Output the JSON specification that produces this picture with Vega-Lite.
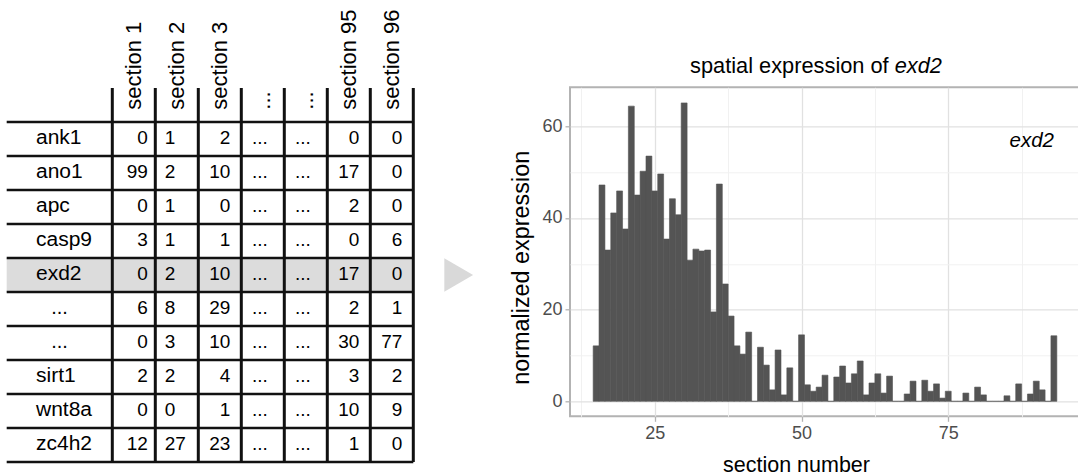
{
  "$schema": "https://vega.github.io/schema/vega-lite/v6.json",
  "padding": {"left": 0, "top": 9.3, "right": 0, "bottom": 0},
  "spacing": 70,
  "bounds": "flush",
  "config": {"font": "Liberation Sans", "text": {"color": "#000000"}},
  "datasets": {
    "genes": [
      {"row": 1, "gene": "ank1"}, {"row": 2, "gene": "ano1"}, {"row": 3, "gene": "apc"},
      {"row": 4, "gene": "casp9"}, {"row": 5, "gene": "exd2"}, {"row": 6, "gene": "..."},
      {"row": 7, "gene": "..."}, {"row": 8, "gene": "sirt1"}, {"row": 9, "gene": "wnt8a"},
      {"row": 10, "gene": "zc4h2"}
    ],
    "sections": [
      {"col": 1, "label": "section 1"}, {"col": 2, "label": "section 2"}, {"col": 3, "label": "section 3"},
      {"col": 4, "label": "..."}, {"col": 5, "label": "..."}, {"col": 6, "label": "section 95"},
      {"col": 7, "label": "section 96"}
    ],
    "cells": [
      {"row": 1, "col": 1, "v": "0"}, {"row": 1, "col": 2, "v": "1"}, {"row": 1, "col": 3, "v": "2"}, {"row": 1, "col": 4, "v": "..."}, {"row": 1, "col": 5, "v": "..."}, {"row": 1, "col": 6, "v": "0"}, {"row": 1, "col": 7, "v": "0"},
      {"row": 2, "col": 1, "v": "99"}, {"row": 2, "col": 2, "v": "2"}, {"row": 2, "col": 3, "v": "10"}, {"row": 2, "col": 4, "v": "..."}, {"row": 2, "col": 5, "v": "..."}, {"row": 2, "col": 6, "v": "17"}, {"row": 2, "col": 7, "v": "0"},
      {"row": 3, "col": 1, "v": "0"}, {"row": 3, "col": 2, "v": "1"}, {"row": 3, "col": 3, "v": "0"}, {"row": 3, "col": 4, "v": "..."}, {"row": 3, "col": 5, "v": "..."}, {"row": 3, "col": 6, "v": "2"}, {"row": 3, "col": 7, "v": "0"},
      {"row": 4, "col": 1, "v": "3"}, {"row": 4, "col": 2, "v": "1"}, {"row": 4, "col": 3, "v": "1"}, {"row": 4, "col": 4, "v": "..."}, {"row": 4, "col": 5, "v": "..."}, {"row": 4, "col": 6, "v": "0"}, {"row": 4, "col": 7, "v": "6"},
      {"row": 5, "col": 1, "v": "0"}, {"row": 5, "col": 2, "v": "2"}, {"row": 5, "col": 3, "v": "10"}, {"row": 5, "col": 4, "v": "..."}, {"row": 5, "col": 5, "v": "..."}, {"row": 5, "col": 6, "v": "17"}, {"row": 5, "col": 7, "v": "0"},
      {"row": 6, "col": 1, "v": "6"}, {"row": 6, "col": 2, "v": "8"}, {"row": 6, "col": 3, "v": "29"}, {"row": 6, "col": 4, "v": "..."}, {"row": 6, "col": 5, "v": "..."}, {"row": 6, "col": 6, "v": "2"}, {"row": 6, "col": 7, "v": "1"},
      {"row": 7, "col": 1, "v": "0"}, {"row": 7, "col": 2, "v": "3"}, {"row": 7, "col": 3, "v": "10"}, {"row": 7, "col": 4, "v": "..."}, {"row": 7, "col": 5, "v": "..."}, {"row": 7, "col": 6, "v": "30"}, {"row": 7, "col": 7, "v": "77"},
      {"row": 8, "col": 1, "v": "2"}, {"row": 8, "col": 2, "v": "2"}, {"row": 8, "col": 3, "v": "4"}, {"row": 8, "col": 4, "v": "..."}, {"row": 8, "col": 5, "v": "..."}, {"row": 8, "col": 6, "v": "3"}, {"row": 8, "col": 7, "v": "2"},
      {"row": 9, "col": 1, "v": "0"}, {"row": 9, "col": 2, "v": "0"}, {"row": 9, "col": 3, "v": "1"}, {"row": 9, "col": 4, "v": "..."}, {"row": 9, "col": 5, "v": "..."}, {"row": 9, "col": 6, "v": "10"}, {"row": 9, "col": 7, "v": "9"},
      {"row": 10, "col": 1, "v": "12"}, {"row": 10, "col": 2, "v": "27"}, {"row": 10, "col": 3, "v": "23"}, {"row": 10, "col": 4, "v": "..."}, {"row": 10, "col": 5, "v": "..."}, {"row": 10, "col": 6, "v": "1"}, {"row": 10, "col": 7, "v": "0"}
    ],
    "expr": [
      {"section": 15, "value": 12.1}, {"section": 16, "value": 47.2}, {"section": 17, "value": 33.0}, {"section": 18, "value": 41.1},
      {"section": 19, "value": 45.9}, {"section": 20, "value": 37.6}, {"section": 21, "value": 64.4}, {"section": 22, "value": 45.0},
      {"section": 23, "value": 50.2}, {"section": 24, "value": 53.5}, {"section": 25, "value": 45.9}, {"section": 26, "value": 49.6},
      {"section": 27, "value": 35.4}, {"section": 28, "value": 44.2}, {"section": 29, "value": 40.7}, {"section": 30, "value": 65.1},
      {"section": 31, "value": 30.8}, {"section": 32, "value": 33.2}, {"section": 33, "value": 32.8}, {"section": 34, "value": 33.0},
      {"section": 35, "value": 19.5}, {"section": 36, "value": 47.4}, {"section": 37, "value": 25.6}, {"section": 38, "value": 18.6},
      {"section": 39, "value": 12.1}, {"section": 40, "value": 10.3}, {"section": 41, "value": 15.1}, {"section": 42, "value": 0},
      {"section": 43, "value": 11.8}, {"section": 44, "value": 7.9}, {"section": 45, "value": 2.5}, {"section": 46, "value": 11.2},
      {"section": 47, "value": 1.4}, {"section": 48, "value": 7.3}, {"section": 49, "value": 0}, {"section": 50, "value": 14.5},
      {"section": 51, "value": 3.6}, {"section": 52, "value": 2.2}, {"section": 53, "value": 3.1}, {"section": 54, "value": 5.7},
      {"section": 55, "value": 0}, {"section": 56, "value": 5.3}, {"section": 57, "value": 7.7}, {"section": 58, "value": 4.0},
      {"section": 59, "value": 6.0}, {"section": 60, "value": 8.8}, {"section": 61, "value": 1.4}, {"section": 62, "value": 4.0},
      {"section": 63, "value": 6.0}, {"section": 64, "value": 1.8}, {"section": 65, "value": 5.5}, {"section": 66, "value": 0},
      {"section": 67, "value": 0}, {"section": 68, "value": 1.6}, {"section": 69, "value": 4.4}, {"section": 70, "value": 0},
      {"section": 71, "value": 4.6}, {"section": 72, "value": 2.2}, {"section": 73, "value": 3.8}, {"section": 74, "value": 0.7},
      {"section": 75, "value": 2.2}, {"section": 76, "value": 0}, {"section": 77, "value": 0}, {"section": 78, "value": 1.8},
      {"section": 79, "value": 0}, {"section": 80, "value": 3.1}, {"section": 81, "value": 1.4}, {"section": 82, "value": 0},
      {"section": 83, "value": 0}, {"section": 84, "value": 0}, {"section": 85, "value": 1.2}, {"section": 86, "value": 0},
      {"section": 87, "value": 3.8}, {"section": 88, "value": 0}, {"section": 89, "value": 1.6}, {"section": 90, "value": 4.4},
      {"section": 91, "value": 2.5}, {"section": 92, "value": 0}, {"section": 93, "value": 14.3}
    ]
  },
  "hconcat": [
    {
      "width": 500,
      "height": 375,
      "view": {"stroke": null},
      "layer": [
        {
          "data": {"name": "genes"},
          "transform": [{"filter": "datum.gene === 'exd2'"}],
          "mark": {"type": "bar", "height": 34, "color": "#dcdcdc"},
          "encoding": {
            "x": {"datum": -1.956, "type": "quantitative", "scale": {"domain": [-2.1116, 9.5163], "zero": false, "nice": false, "padding": 0}, "axis": null},
            "x2": {"datum": 7.5},
            "y": {"field": "row", "type": "quantitative", "scale": {"domain": [-0.5206, 10.5088], "reverse": true, "zero": false, "nice": false, "padding": 0}, "axis": null}
          }
        },
        {
          "data": {"name": "genes"},
          "transform": [{"filter": "datum.gene === 'exd2'"}],
          "mark": {"type": "point", "shape": "triangle-right", "filled": true, "size": 1109, "color": "#d9d9d9", "opacity": 1},
          "encoding": {
            "x": {"datum": 8.556, "type": "quantitative"},
            "y": {"field": "row", "type": "quantitative"}
          }
        },
        {
          "data": {"name": "genes"},
          "mark": {"type": "rule", "strokeWidth": 2.5, "color": "#111111", "yOffset": 17, "strokeCap": "butt"},
          "encoding": {
            "x": {"datum": -1.956, "type": "quantitative"},
            "x2": {"datum": 7.5},
            "y": {"field": "row", "type": "quantitative"}
          }
        },
        {
          "data": {"name": "genes"},
          "transform": [{"filter": "datum.row === 1"}],
          "mark": {"type": "rule", "strokeWidth": 2.5, "color": "#111111", "yOffset": -17, "strokeCap": "butt"},
          "encoding": {
            "x": {"datum": -1.956, "type": "quantitative"},
            "x2": {"datum": 7.5},
            "y": {"field": "row", "type": "quantitative"}
          }
        },
        {
          "data": {"name": "sections"},
          "mark": {"type": "rule", "strokeWidth": 3, "color": "#111111", "xOffset": -21.5, "strokeCap": "butt"},
          "encoding": {
            "x": {"field": "col", "type": "quantitative"},
            "y": {"datum": -0.5, "type": "quantitative"},
            "y2": {"datum": 10.5}
          }
        },
        {
          "data": {"name": "sections"},
          "transform": [{"filter": "datum.col === 7"}],
          "mark": {"type": "rule", "strokeWidth": 3, "color": "#111111", "xOffset": 21.5, "strokeCap": "butt"},
          "encoding": {
            "x": {"field": "col", "type": "quantitative"},
            "y": {"datum": -0.5, "type": "quantitative"},
            "y2": {"datum": 10.5}
          }
        },
        {
          "data": {"name": "sections"},
          "mark": {"type": "text", "angle": 270, "align": "left", "baseline": "middle", "fontSize": 22},
          "encoding": {
            "x": {"field": "col", "type": "quantitative"},
            "y": {"datum": 0.138, "type": "quantitative"},
            "text": {"field": "label"}
          }
        },
        {
          "data": {"name": "genes"},
          "transform": [{"filter": "datum.gene !== '...'"}],
          "mark": {"type": "text", "align": "left", "baseline": "middle", "fontSize": 21, "dy": -1},
          "encoding": {
            "x": {"datum": -1.274, "type": "quantitative"},
            "y": {"field": "row", "type": "quantitative"},
            "text": {"field": "gene"}
          }
        },
        {
          "data": {"name": "genes"},
          "transform": [{"filter": "datum.gene === '...'"}],
          "mark": {"type": "text", "align": "center", "baseline": "middle", "fontSize": 20, "dy": -1},
          "encoding": {
            "x": {"datum": -0.728, "type": "quantitative"},
            "y": {"field": "row", "type": "quantitative"},
            "text": {"field": "gene"}
          }
        },
        {
          "data": {"name": "cells"},
          "transform": [{"filter": "datum.col === 1"}],
          "mark": {"type": "text", "align": "right", "baseline": "middle", "fontSize": 19, "dx": 14, "dy": -1},
          "encoding": {
            "x": {"field": "col", "type": "quantitative"},
            "y": {"field": "row", "type": "quantitative"},
            "text": {"field": "v"}
          }
        },
        {
          "data": {"name": "cells"},
          "transform": [{"filter": "datum.col === 2"}],
          "mark": {"type": "text", "align": "left", "baseline": "middle", "fontSize": 19, "dx": -12, "dy": -1},
          "encoding": {
            "x": {"field": "col", "type": "quantitative"},
            "y": {"field": "row", "type": "quantitative"},
            "text": {"field": "v"}
          }
        },
        {
          "data": {"name": "cells"},
          "transform": [{"filter": "datum.col === 3 || datum.col === 6 || datum.col === 7"}],
          "mark": {"type": "text", "align": "right", "baseline": "middle", "fontSize": 19, "dx": 10.5, "dy": -1},
          "encoding": {
            "x": {"field": "col", "type": "quantitative"},
            "y": {"field": "row", "type": "quantitative"},
            "text": {"field": "v"}
          }
        },
        {
          "data": {"name": "cells"},
          "transform": [{"filter": "datum.col === 4 || datum.col === 5"}],
          "mark": {"type": "text", "align": "center", "baseline": "middle", "fontSize": 19, "dx": -3, "dy": -1},
          "encoding": {
            "x": {"field": "col", "type": "quantitative"},
            "y": {"field": "row", "type": "quantitative"},
            "text": {"field": "v"}
          }
        }
      ]
    },
    {
      "width": 510,
      "height": 329,
      "view": {"stroke": "#b3b3b3", "strokeWidth": 2},
      "layer": [
        {
          "data": {"name": "expr"},
          "mark": {"type": "bar", "width": 5.9, "color": "#545454", "stroke": "#545454", "strokeWidth": 0.6},
          "encoding": {
            "x": {
              "field": "section", "type": "quantitative",
              "scale": {"domain": [10.55, 97.45], "zero": false, "nice": false, "padding": 0},
              "axis": {
                "values": [12.5, 25, 37.5, 50, 62.5, 75, 87.5],
                "domain": false,
                "grid": true,
                "gridColor": {"condition": {"test": "datum.value % 25 === 0", "value": "#e1e1e1"}, "value": "#f1f1f1"},
                "gridWidth": {"condition": {"test": "datum.value % 25 === 0", "value": 1.3}, "value": 1},
                "tickColor": "#b3b3b3",
                "tickOpacity": {"condition": {"test": "datum.value % 25 === 0", "value": 1}, "value": 0},
                "tickSize": 5,
                "tickWidth": 1.3,
                "labelExpr": "datum.value % 25 === 0 ? datum.label : ''",
                "labelFontSize": 18,
                "labelColor": "#4d4d4d",
                "labelPadding": 3,
                "title": "section number",
                "titleFontSize": 21.5,
                "titleFontWeight": "normal",
                "titleColor": "#000000",
                "titlePadding": 12,
                "titleX": 226
              }
            },
            "y": {
              "field": "value", "type": "quantitative",
              "scale": {"domain": [-3.27, 68.51], "zero": false, "nice": false, "padding": 0},
              "axis": {
                "values": [0, 10, 20, 30, 40, 50, 60],
                "domain": false,
                "grid": true,
                "gridColor": {"condition": {"test": "datum.value % 20 === 0", "value": "#e1e1e1"}, "value": "#f1f1f1"},
                "gridWidth": {"condition": {"test": "datum.value % 20 === 0", "value": 1.3}, "value": 1},
                "tickColor": "#b3b3b3",
                "tickOpacity": {"condition": {"test": "datum.value % 20 === 0", "value": 1}, "value": 0},
                "tickSize": 5,
                "tickWidth": 1.3,
                "labelExpr": "datum.value % 20 === 0 ? datum.label : ''",
                "labelFontSize": 18,
                "labelColor": "#4d4d4d",
                "labelPadding": 3,
                "title": "normalized expression",
                "titleFontSize": 23.4,
                "titleFontWeight": "normal",
                "titleColor": "#000000",
                "titlePadding": 8,
                "titleY": 180
              }
            },
            "y2": {"datum": 0}
          }
        },
        {
          "data": {"values": [{"label": "exd2"}]},
          "mark": {"type": "text", "fontStyle": "italic", "fontSize": 20.5, "align": "center", "baseline": "middle"},
          "encoding": {
            "x": {"datum": 89.22, "type": "quantitative"},
            "y": {"datum": 56.8, "type": "quantitative"},
            "text": {"field": "label"}
          }
        },
        {
          "data": {"values": [{"label": "spatial expression of"}]},
          "mark": {"type": "text", "fontSize": 21.8, "align": "right", "baseline": "middle", "dx": -6},
          "encoding": {
            "x": {"datum": 65.87, "type": "quantitative"},
            "y": {"datum": 73.2, "type": "quantitative"},
            "text": {"field": "label"}
          }
        },
        {
          "data": {"values": [{"label": "exd2"}]},
          "mark": {"type": "text", "fontSize": 21.8, "fontStyle": "italic", "align": "left", "baseline": "middle"},
          "encoding": {
            "x": {"datum": 65.87, "type": "quantitative"},
            "y": {"datum": 73.2, "type": "quantitative"},
            "text": {"field": "label"}
          }
        }
      ]
    }
  ]
}
